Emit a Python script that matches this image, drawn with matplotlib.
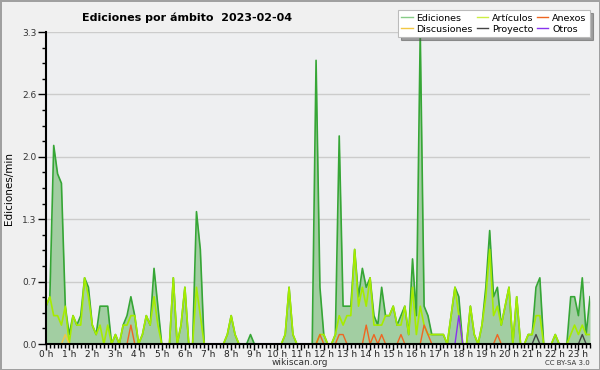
import numpy as np
import matplotlib
matplotlib.use('Agg')
import matplotlib.pyplot as plt
from matplotlib.lines import Line2D
from matplotlib.ticker import MultipleLocator

# edits per minute, one value per 10-minute slot (00:00 .. 23:30)
ediciones = [
    0.4, 0.5, 2.1, 1.8, 1.7, 0.4, 0.1, 0.3, 0.2, 0.3, 0.7, 0.6,
    0.2, 0.1, 0.4, 0.4, 0.4, 0.0, 0.1, 0.0, 0.2, 0.3, 0.5, 0.3,
    0.0, 0.1, 0.3, 0.2, 0.8, 0.4, 0.0, 0.0, 0.0, 0.7, 0.0, 0.2,
    0.6, 0.0, 0.0, 1.4, 1.0, 0.0, 0.0, 0.0, 0.0, 0.0, 0.0, 0.1,
    0.3, 0.1, 0.0, 0.0, 0.0, 0.1, 0.0, 0.0, 0.0, 0.0, 0.0, 0.0,
    0.0, 0.0, 0.1, 0.6, 0.1, 0.0, 0.0, 0.0, 0.0, 0.0, 3.0, 0.6,
    0.1, 0.0, 0.0, 0.1, 2.2, 0.4, 0.4, 0.4, 1.0, 0.5, 0.8, 0.6,
    0.7, 0.3, 0.2, 0.6, 0.3, 0.3, 0.4, 0.2, 0.3, 0.4, 0.1, 0.9,
    0.3, 3.3, 0.4, 0.3, 0.1, 0.1, 0.1, 0.1, 0.0, 0.3, 0.6, 0.5,
    0.0, 0.0, 0.4, 0.1, 0.0, 0.2, 0.6, 1.2, 0.5, 0.6, 0.2, 0.4,
    0.6, 0.0, 0.5, 0.0, 0.0, 0.1, 0.1, 0.6, 0.7, 0.0, 0.0, 0.0,
    0.1, 0.0, 0.0, 0.0, 0.5, 0.5, 0.3, 0.7, 0.1, 0.5,
]
articulos = [
    0.4, 0.5, 0.3, 0.3, 0.2, 0.4, 0.0, 0.3, 0.2, 0.2, 0.7, 0.5,
    0.2, 0.1, 0.2, 0.0, 0.2, 0.0, 0.1, 0.0, 0.2, 0.2, 0.3, 0.3,
    0.0, 0.1, 0.3, 0.2, 0.5, 0.2, 0.0, 0.0, 0.0, 0.7, 0.0, 0.2,
    0.6, 0.0, 0.0, 0.6, 0.3, 0.0, 0.0, 0.0, 0.0, 0.0, 0.0, 0.1,
    0.3, 0.1, 0.0, 0.0, 0.0, 0.0, 0.0, 0.0, 0.0, 0.0, 0.0, 0.0,
    0.0, 0.0, 0.1, 0.6, 0.1, 0.0, 0.0, 0.0, 0.0, 0.0, 0.0, 0.1,
    0.1, 0.0, 0.0, 0.1, 0.3, 0.2, 0.3, 0.3, 1.0, 0.4, 0.6, 0.4,
    0.7, 0.2, 0.2, 0.2, 0.3, 0.3, 0.4, 0.2, 0.2, 0.4, 0.1, 0.6,
    0.1, 0.4, 0.2, 0.1, 0.1, 0.1, 0.1, 0.1, 0.0, 0.3, 0.6, 0.3,
    0.0, 0.0, 0.4, 0.1, 0.0, 0.2, 0.5, 1.0, 0.3, 0.4, 0.2, 0.4,
    0.6, 0.0, 0.5, 0.0, 0.0, 0.1, 0.1, 0.3, 0.3, 0.0, 0.0, 0.0,
    0.1, 0.0, 0.0, 0.0, 0.1, 0.2, 0.1, 0.2, 0.1, 0.1,
]
discusiones = [
    0.0, 0.0, 0.0, 0.0, 0.0, 0.1, 0.0, 0.0, 0.0, 0.0, 0.0, 0.0,
    0.0, 0.0, 0.0, 0.0, 0.0, 0.0, 0.0, 0.0, 0.0, 0.0, 0.0, 0.0,
    0.0, 0.0, 0.0, 0.0, 0.0, 0.0, 0.0, 0.0, 0.0, 0.0, 0.0, 0.0,
    0.0, 0.0, 0.0, 0.0, 0.0, 0.0, 0.0, 0.0, 0.0, 0.0, 0.0, 0.0,
    0.0, 0.0, 0.0, 0.0, 0.0, 0.0, 0.0, 0.0, 0.0, 0.0, 0.0, 0.0,
    0.0, 0.0, 0.0, 0.0, 0.0, 0.0, 0.0, 0.0, 0.0, 0.0, 0.0, 0.0,
    0.0, 0.0, 0.0, 0.0, 0.0, 0.0, 0.0, 0.0, 0.0, 0.0, 0.0, 0.0,
    0.0, 0.0, 0.0, 0.0, 0.0, 0.0, 0.0, 0.0, 0.0, 0.0, 0.0, 0.0,
    0.0, 0.0, 0.0, 0.0, 0.0, 0.0, 0.0, 0.0, 0.0, 0.0, 0.0, 0.0,
    0.0, 0.0, 0.0, 0.0, 0.0, 0.0, 0.0, 0.0, 0.0, 0.0, 0.0, 0.0,
    0.0, 0.0, 0.0, 0.0, 0.0, 0.0, 0.0, 0.0, 0.0, 0.0, 0.0, 0.0,
    0.0, 0.0, 0.0, 0.0, 0.0, 0.0, 0.0, 0.0, 0.0, 0.0,
]
anexos = [
    0.0, 0.0, 0.0, 0.0, 0.0, 0.0, 0.0, 0.0, 0.0, 0.0, 0.0, 0.0,
    0.0, 0.0, 0.0, 0.0, 0.0, 0.0, 0.0, 0.0, 0.0, 0.0, 0.2, 0.0,
    0.0, 0.0, 0.0, 0.0, 0.0, 0.0, 0.0, 0.0, 0.0, 0.0, 0.0, 0.0,
    0.0, 0.0, 0.0, 0.0, 0.0, 0.0, 0.0, 0.0, 0.0, 0.0, 0.0, 0.0,
    0.0, 0.0, 0.0, 0.0, 0.0, 0.0, 0.0, 0.0, 0.0, 0.0, 0.0, 0.0,
    0.0, 0.0, 0.0, 0.0, 0.0, 0.0, 0.0, 0.0, 0.0, 0.0, 0.0, 0.1,
    0.0, 0.0, 0.0, 0.0, 0.1, 0.1, 0.0, 0.0, 0.0, 0.0, 0.0, 0.2,
    0.0, 0.1, 0.0, 0.1, 0.0, 0.0, 0.0, 0.0, 0.1, 0.0, 0.0, 0.0,
    0.0, 0.0, 0.2, 0.1, 0.0, 0.0, 0.0, 0.0, 0.0, 0.0, 0.0, 0.0,
    0.0, 0.0, 0.0, 0.0, 0.0, 0.0, 0.0, 0.0, 0.0, 0.1, 0.0, 0.0,
    0.0, 0.0, 0.0, 0.0, 0.0, 0.0, 0.0, 0.0, 0.0, 0.0, 0.0, 0.0,
    0.0, 0.0, 0.0, 0.0, 0.0, 0.0, 0.0, 0.0, 0.0, 0.0,
]
proyecto = [
    0.0, 0.0, 0.0, 0.0, 0.0, 0.0, 0.0, 0.0, 0.0, 0.0, 0.0, 0.0,
    0.0, 0.0, 0.0, 0.0, 0.0, 0.0, 0.0, 0.0, 0.0, 0.0, 0.0, 0.0,
    0.0, 0.0, 0.0, 0.0, 0.0, 0.0, 0.0, 0.0, 0.0, 0.0, 0.0, 0.0,
    0.0, 0.0, 0.0, 0.0, 0.0, 0.0, 0.0, 0.0, 0.0, 0.0, 0.0, 0.0,
    0.0, 0.0, 0.0, 0.0, 0.0, 0.0, 0.0, 0.0, 0.0, 0.0, 0.0, 0.0,
    0.0, 0.0, 0.0, 0.0, 0.0, 0.0, 0.0, 0.0, 0.0, 0.0, 0.0, 0.0,
    0.0, 0.0, 0.0, 0.0, 0.0, 0.0, 0.0, 0.0, 0.0, 0.0, 0.0, 0.0,
    0.0, 0.0, 0.0, 0.0, 0.0, 0.0, 0.0, 0.0, 0.0, 0.0, 0.0, 0.0,
    0.0, 0.0, 0.0, 0.0, 0.0, 0.0, 0.0, 0.0, 0.0, 0.0, 0.0, 0.0,
    0.0, 0.0, 0.0, 0.0, 0.0, 0.0, 0.0, 0.0, 0.0, 0.0, 0.0, 0.0,
    0.0, 0.0, 0.0, 0.0, 0.0, 0.0, 0.0, 0.1, 0.0, 0.0, 0.0, 0.0,
    0.0, 0.0, 0.0, 0.0, 0.0, 0.0, 0.0, 0.1, 0.0, 0.0,
]
otros = [
    0.0, 0.0, 0.0, 0.0, 0.0, 0.0, 0.0, 0.0, 0.0, 0.0, 0.0, 0.0,
    0.0, 0.0, 0.0, 0.0, 0.0, 0.0, 0.0, 0.0, 0.0, 0.0, 0.0, 0.0,
    0.0, 0.0, 0.0, 0.0, 0.0, 0.0, 0.0, 0.0, 0.0, 0.0, 0.0, 0.0,
    0.0, 0.0, 0.0, 0.0, 0.0, 0.0, 0.0, 0.0, 0.0, 0.0, 0.0, 0.0,
    0.0, 0.0, 0.0, 0.0, 0.0, 0.0, 0.0, 0.0, 0.0, 0.0, 0.0, 0.0,
    0.0, 0.0, 0.0, 0.0, 0.0, 0.0, 0.0, 0.0, 0.0, 0.0, 0.0, 0.0,
    0.0, 0.0, 0.0, 0.0, 0.0, 0.0, 0.0, 0.0, 0.0, 0.0, 0.0, 0.0,
    0.0, 0.0, 0.0, 0.0, 0.0, 0.0, 0.0, 0.0, 0.0, 0.0, 0.0, 0.0,
    0.0, 0.0, 0.0, 0.0, 0.0, 0.0, 0.0, 0.0, 0.0, 0.0, 0.0, 0.3,
    0.0, 0.0, 0.0, 0.0, 0.0, 0.0, 0.0, 0.0, 0.0, 0.0, 0.0, 0.0,
    0.0, 0.0, 0.0, 0.0, 0.0, 0.0, 0.0, 0.0, 0.0, 0.0, 0.0, 0.0,
    0.0, 0.0, 0.0, 0.0, 0.0, 0.0, 0.0, 0.0, 0.0, 0.0,
]

hour_labels = [f'{h} h' for h in range(24)]
y_ticks = [0.0, 0.66, 1.32, 1.98, 2.64, 3.3]
y_labels = ['0.0', '0.7', '1.3', '2.0', '2.6', '3.3']

hours = np.arange(len(ediciones)) / 6.0

fig = plt.figure(figsize=(6, 3.7), dpi=100)
fig.patch.set_facecolor('#f0f0f0')
fig.patch.set_edgecolor('#a0a0a0')
fig.patch.set_linewidth(2)
ax = fig.add_axes([46 / 600, 1 - 344 / 370, 544 / 600, 312 / 370])
ax.set_facecolor('#eeeff1')

ax.fill_between(hours, ediciones, 0, color='#a2cea2', lw=0, zorder=1)
ax.plot(hours, ediciones, color='#36a636', lw=1.2, zorder=2)
ax.plot(hours, articulos, color='#a6ec00', lw=1.2, zorder=3)
ax.plot(hours, discusiones, color='#f2c744', lw=1.0, zorder=4)
ax.plot(hours, anexos, color='#ee6622', lw=1.0, zorder=4)
ax.plot(hours, proyecto, color='#444444', lw=1.0, zorder=4)
ax.plot(hours, otros, color='#8833ee', lw=1.0, zorder=4)

ax.set_xlim(0, hours[-1])
ax.set_ylim(0, 3.3)
ax.set_xticks(range(24))
ax.set_xticklabels(hour_labels, fontsize=6.5, color='#222222')
ax.xaxis.set_minor_locator(MultipleLocator(1 / 6))
ax.set_yticks(y_ticks)
ax.set_yticklabels(y_labels, fontsize=6.5, color='#333333')
ax.yaxis.set_minor_locator(MultipleLocator(0.165))
ax.tick_params(axis='x', which='major', length=4, width=1, pad=0.5)
ax.tick_params(axis='x', which='minor', length=3, width=1)
ax.tick_params(axis='y', which='major', length=6, width=1, pad=1)
ax.tick_params(axis='y', which='minor', length=3, width=1)
ax.grid(axis='y', color='#cccccc', lw=1)
ax.set_axisbelow(True)
for side in ['top', 'right']:
    ax.spines[side].set_visible(False)
for side in ['left', 'bottom']:
    ax.spines[side].set_linewidth(1.5)
    ax.spines[side].set_zorder(10)

ax.set_ylabel('Ediciones/min', fontsize=7.5, labelpad=6)

fig.text(0.312, 0.953, 'Ediciones por ámbito  2023-02-04', ha='center', va='center',
         fontsize=8, fontweight='bold')
fig.text(0.5, 0.02, 'wikiscan.org', ha='center', va='center', fontsize=6.5, color='#333333')
fig.text(0.983, 0.02, 'CC BY-SA 3.0', ha='right', va='center', fontsize=5, color='#333333')

handles = [
    Line2D([], [], color='#88cc88', lw=1),
    Line2D([], [], color='#f2c744', lw=1),
    Line2D([], [], color='#ccee44', lw=1),
    Line2D([], [], color='#444444', lw=1),
    Line2D([], [], color='#ee6622', lw=1),
    Line2D([], [], color='#8833ee', lw=1),
]
names = ['Ediciones', 'Discusiones', 'Artículos', 'Proyecto', 'Anexos', 'Otros']
leg = fig.legend(handles, names, ncol=3, loc='upper right', bbox_to_anchor=(0.983, 0.972),
                 fontsize=6.8, frameon=True, fancybox=False, shadow=True,
                 handlelength=1.2, handletextpad=0.4, columnspacing=0.4,
                 labelspacing=0.2, borderpad=0.35, borderaxespad=0)
leg.get_frame().set_edgecolor('#bbbbbb')
leg.get_frame().set_linewidth(0.8)

fig.savefig('out.png', dpi=100, facecolor=fig.get_facecolor(), edgecolor=fig.get_edgecolor())
